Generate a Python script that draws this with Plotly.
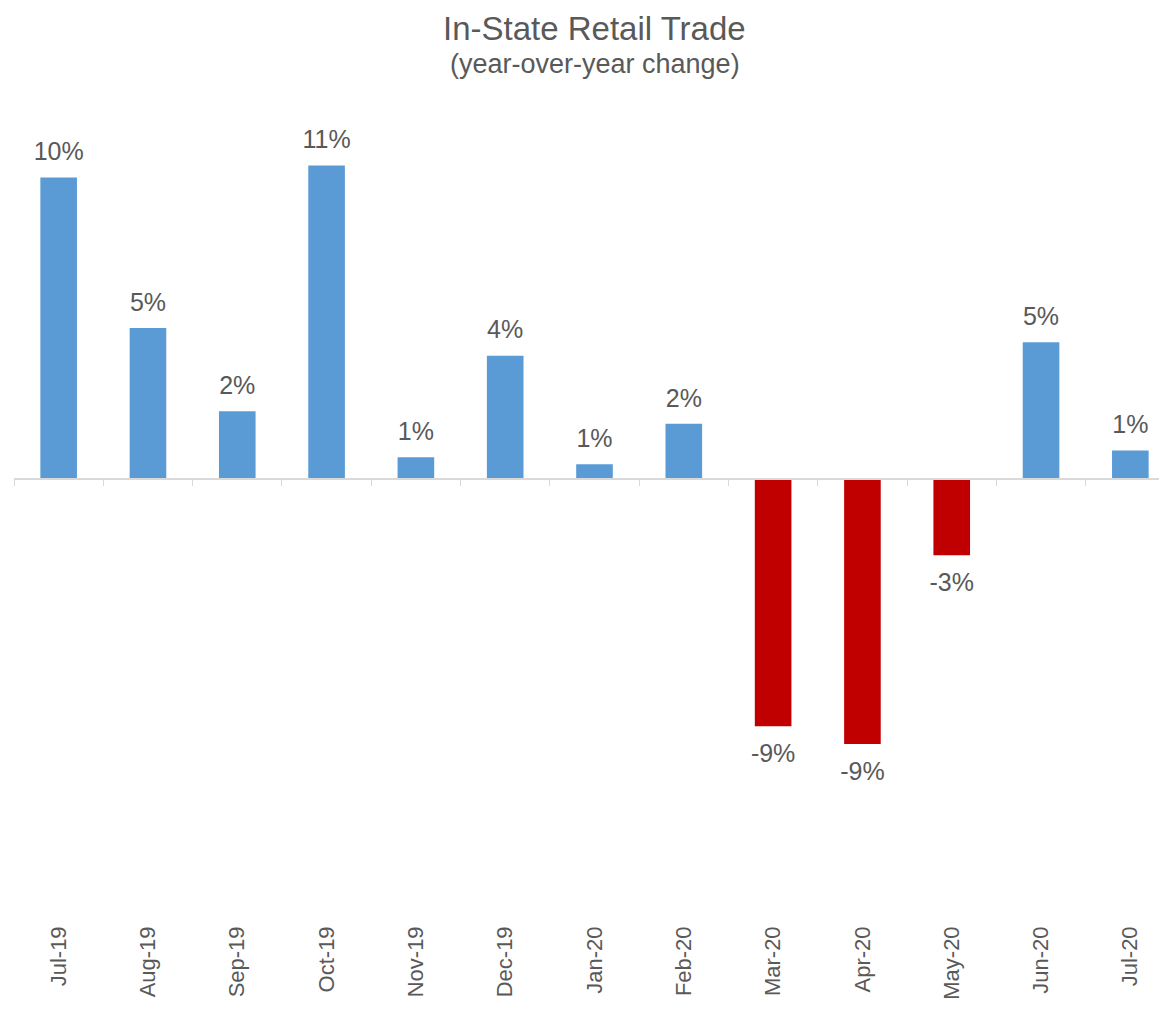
import plotly.graph_objects as go

months = ["Jul-19", "Aug-19", "Sep-19", "Oct-19", "Nov-19", "Dec-19", "Jan-20",
          "Feb-20", "Mar-20", "Apr-20", "May-20", "Jun-20", "Jul-20"]
yoy_change = [0.1045, 0.0524, 0.0236, 0.1087, 0.0076, 0.0428, 0.0052,
              0.0192, -0.0855, -0.0917, -0.0263, 0.0475, 0.0100]

BLUE = "#5B9BD5"
RED = "#C00000"
TEXT = "#595959"
AXIS = "#D9D9D9"
FONT = "Liberation Sans, Arial, sans-serif"

W, H = 1167, 1014
y_min, y_max = -0.153, 0.13
m_top, m_bot = 96, 101
plot_h = H - m_top - m_bot

bar_colors = [BLUE if v >= 0 else RED for v in yoy_change]
label_pos = ["top center" if v >= 0 else "bottom center" for v in yoy_change]
label_pad = [16 if v >= 0 else 26 for v in yoy_change]

fig = go.Figure()

fig.add_trace(
    go.Bar(
        x=months,
        y=yoy_change,
        marker=dict(color=bar_colors, line=dict(width=0)),
        hoverinfo="skip",
    )
)

# labels (also feeds the zero-line axis with the ticks between categories)
fig.add_trace(
    go.Scatter(
        x=months,
        y=yoy_change,
        xaxis="x2",
        mode="markers+text",
        marker=dict(size=label_pad, color="rgba(0,0,0,0)",
                    line=dict(width=0, color="rgba(0,0,0,0)")),
        text=[f"{round(v * 100):.0f}%" for v in yoy_change],
        textposition=label_pos,
        textfont=dict(size=25, color=TEXT, family=FONT),
        hoverinfo="skip",
    )
)

zero_pos = (0 - y_min) / (y_max - y_min)

fig.update_layout(
    width=W,
    height=H,
    paper_bgcolor="white",
    plot_bgcolor="white",
    showlegend=False,
    bargap=0.59,
    margin=dict(l=6, r=0, t=m_top, b=m_bot),
    font=dict(family=FONT, color=TEXT),
    xaxis=dict(
        type="category",
        range=[-0.5, 12.5],
        showline=False,
        showgrid=False,
        zeroline=False,
        ticks="",
        tickangle=-90,
        tickfont=dict(size=22, color=TEXT),
        automargin=False,
    ),
    xaxis2=dict(
        type="category",
        overlaying="x",
        anchor="free",
        position=zero_pos,
        side="bottom",
        range=[-0.5, 12.5],
        showline=True,
        linecolor=AXIS,
        linewidth=1.5,
        showgrid=False,
        zeroline=False,
        ticks="outside",
        tickson="boundaries",
        ticklen=6,
        tickwidth=1,
        tickcolor=AXIS,
        showticklabels=False,
    ),
    yaxis=dict(
        range=[y_min, y_max],
        visible=False,
        showgrid=False,
        zeroline=False,
    ),
    annotations=[
        dict(
            text="In-State Retail Trade",
            xref="paper", yref="paper",
            x=0.5, y=1 + (m_top - 20) / plot_h,
            xanchor="center", yanchor="middle",
            showarrow=False,
            font=dict(size=33, color=TEXT, family=FONT),
        ),
        dict(
            text="(year-over-year change)",
            xref="paper", yref="paper",
            x=0.5, y=1 + (m_top - 56) / plot_h,
            xanchor="center", yanchor="middle",
            showarrow=False,
            font=dict(size=27, color=TEXT, family=FONT),
        ),
    ],
)

fig.write_html("out.html")
